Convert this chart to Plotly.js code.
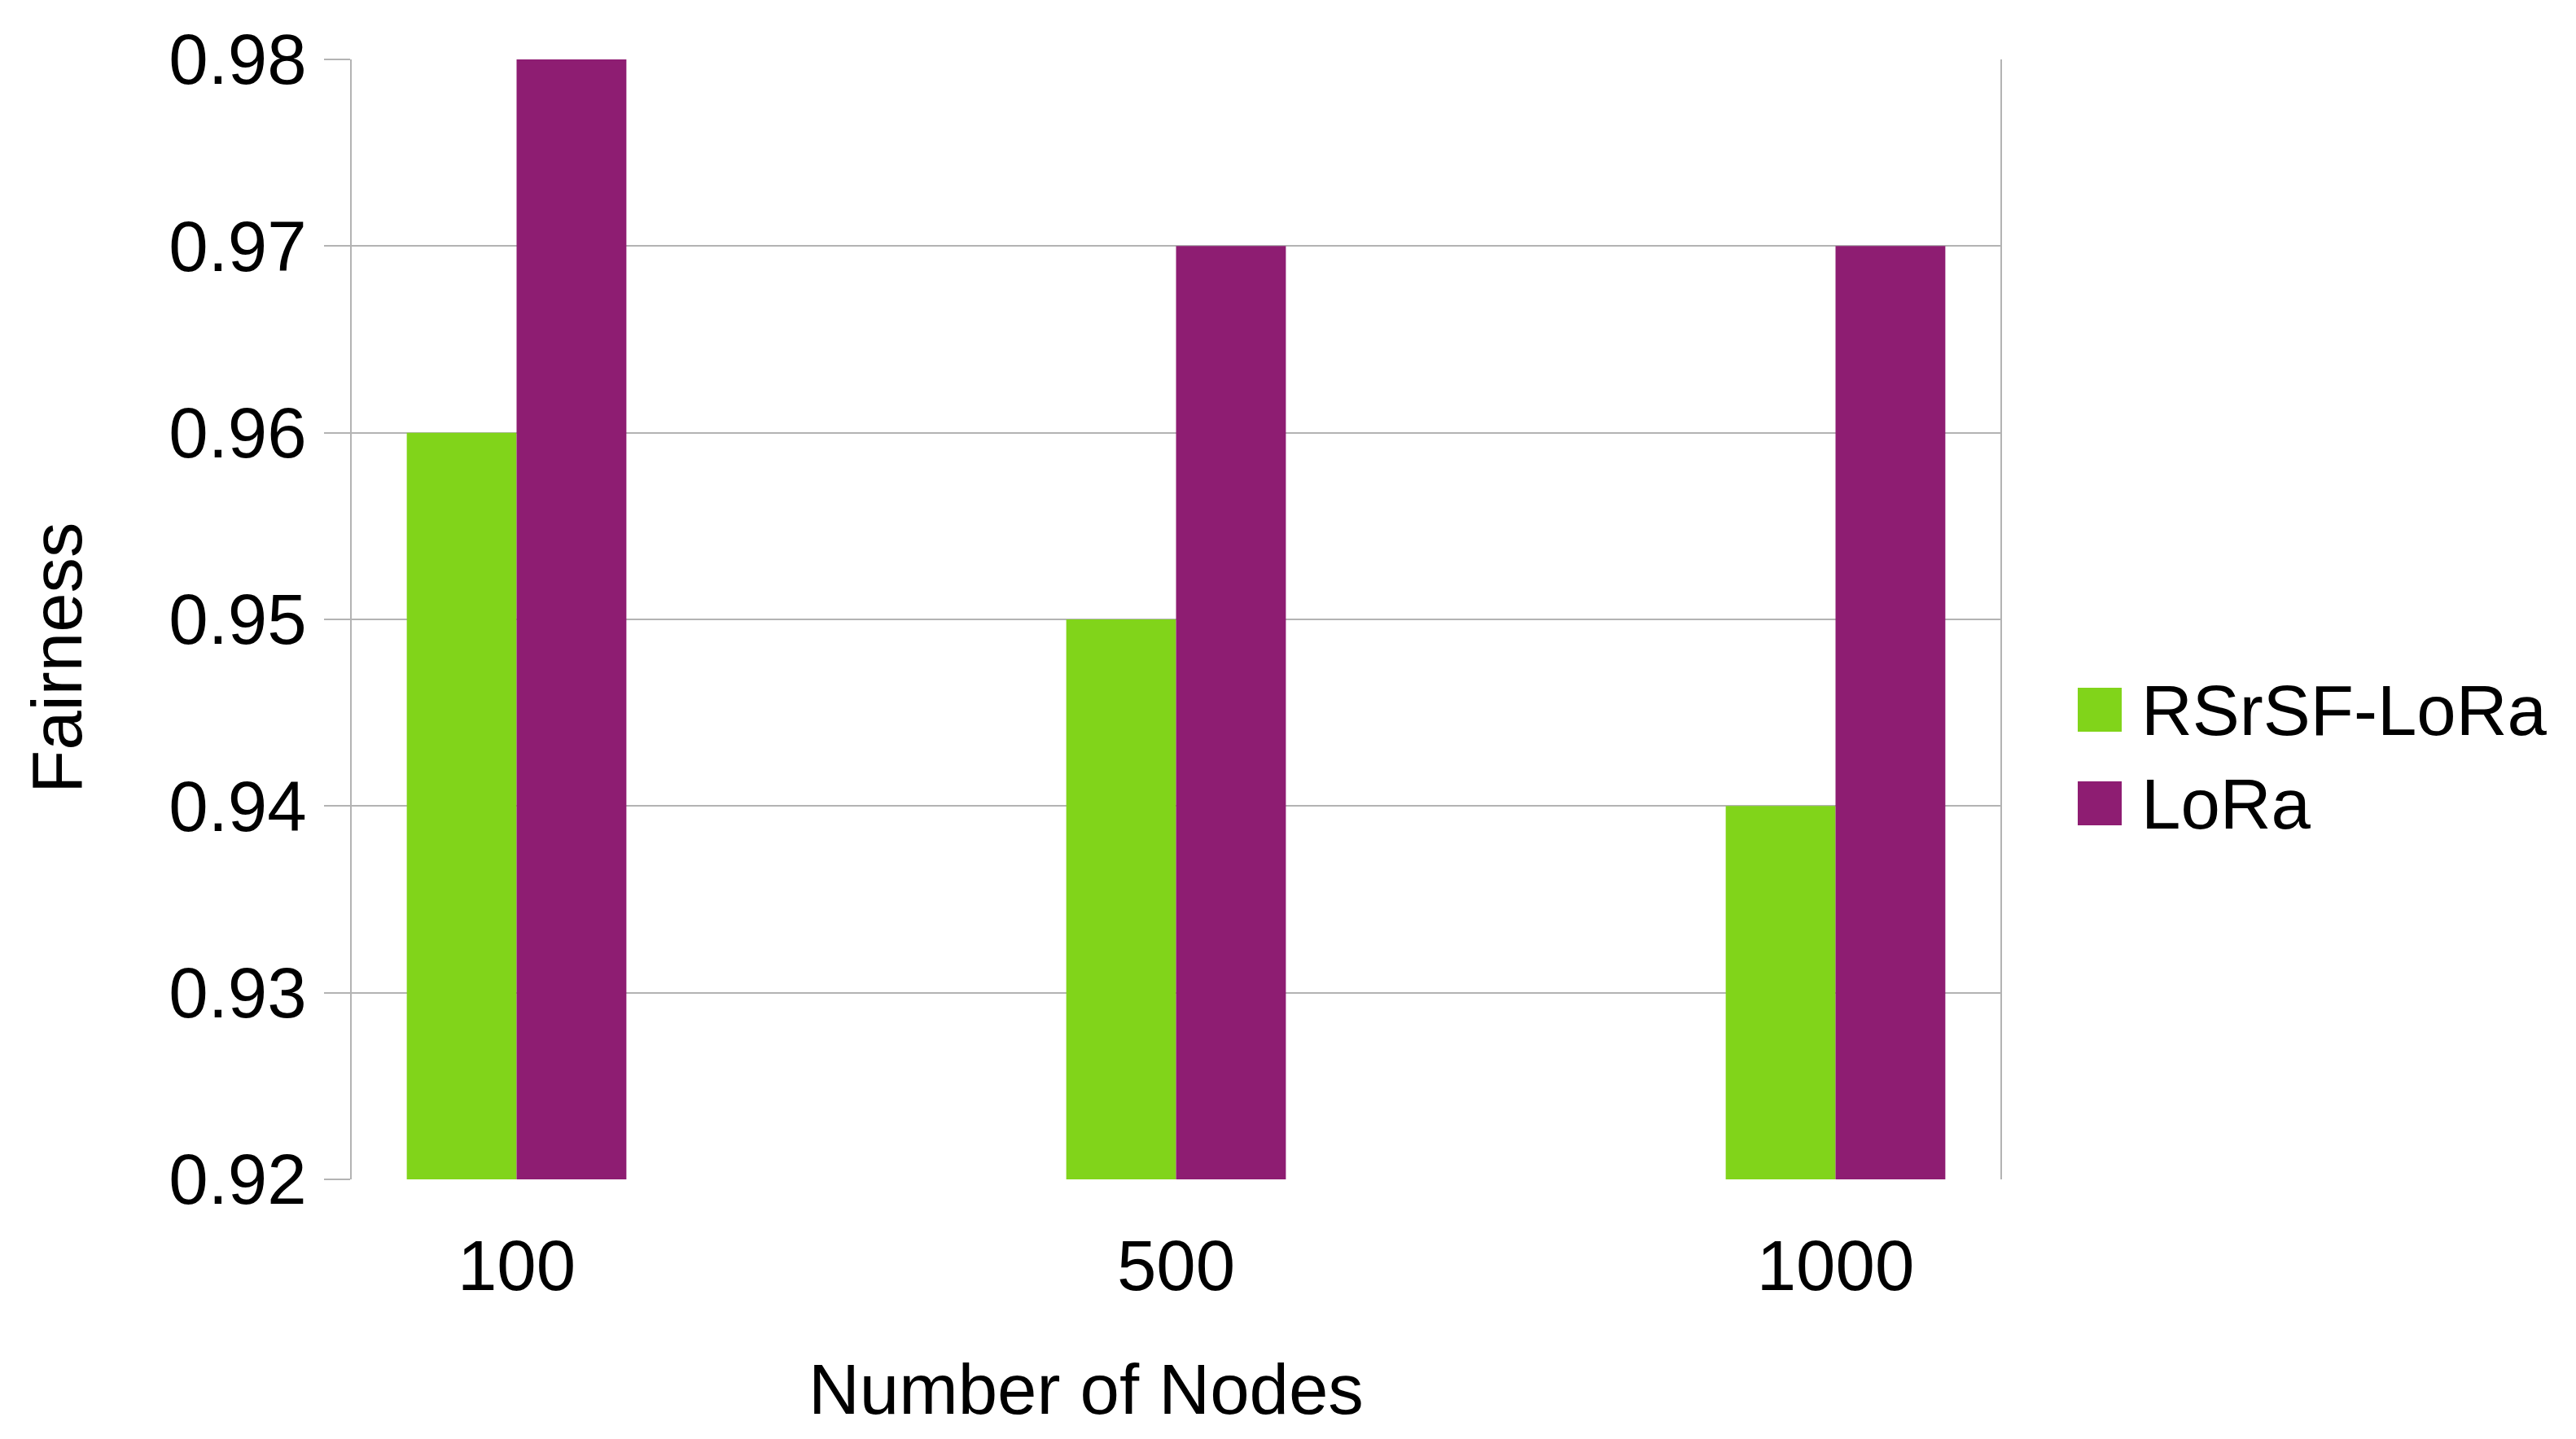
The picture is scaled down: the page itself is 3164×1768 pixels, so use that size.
<!DOCTYPE html>
<html>
<head>
<meta charset="utf-8">
<script src="https://cdn.plot.ly/plotly-3.0.1.min.js"></script>
<style>
  html, body { margin: 0; padding: 0; background: #fff; }
  #plot { width: 3164px; height: 1768px; }
</style>
</head>
<body>
<div id="plot"></div>
<script>
// Fairness vs number of nodes, grouped bars

const categories = ['100', '500', '1000'];
const seriesNames = ['RSrSF-LoRa', 'LoRa'];
const rsrsfValues = [0.96, 0.95, 0.94];
const loraValues = [0.98, 0.97, 0.97];
const yTickValues = [0.92, 0.93, 0.94, 0.95, 0.96, 0.97, 0.98];

const colors = ['#81d41a', '#8e1d72'];
const gridColor = '#b3b3b3';
const fontFamily = '"Liberation Sans", Arial, sans-serif';
const fontSize = 87;

const W = 3164, H = 1768;
const margin = { l: 432, r: 3164 - 2457, t: 73, b: 1768 - 1449 };
const plotW = W - margin.l - margin.r;
const plotH = H - margin.t - margin.b;

// pixel -> paper coords helpers
function px(x) { return (x - margin.l) / plotW; }
function py(y) { return (H - margin.b - y) / plotH; }

const traces = [
  {
    type: 'bar',
    name: seriesNames[0],
    x: categories,
    y: rsrsfValues,
    marker: { color: colors[0], line: { width: 0 } },
    hoverinfo: 'skip',
  },
  {
    type: 'bar',
    name: seriesNames[1],
    x: categories,
    y: loraValues,
    marker: { color: colors[1], line: { width: 0 } },
    hoverinfo: 'skip',
  }
];

// hand-drawn legend (big square swatches)
const shapes = [];
const annotations = [];
const legendRows = [872, 987];
seriesNames.forEach((name, i) => {
  const cy = legendRows[i];
  shapes.push({
    type: 'rect',
    xref: 'paper', yref: 'paper',
    x0: px(2552), x1: px(2606),
    y0: py(cy + 27), y1: py(cy - 27),
    fillcolor: colors[i],
    line: { width: 0 },
  });
  annotations.push({
    xref: 'paper', yref: 'paper',
    x: px(2628), y: py(cy),
    xanchor: 'left', yanchor: 'middle',
    text: name,
    showarrow: false,
    font: { family: fontFamily, size: fontSize, color: '#000' },
  });
});

// axis titles, placed where the original has them
annotations.push({
  xref: 'paper', yref: 'paper',
  x: px(1334), y: py(1706),
  xanchor: 'center', yanchor: 'middle',
  text: 'Number of Nodes',
  showarrow: false,
  font: { family: fontFamily, size: fontSize, color: '#000' },
});
annotations.push({
  xref: 'paper', yref: 'paper',
  x: px(69), y: py(808),
  xanchor: 'center', yanchor: 'middle',
  textangle: -90,
  text: 'Fairness',
  showarrow: false,
  font: { family: fontFamily, size: fontSize, color: '#000' },
});

const layout = {
  width: W,
  height: H,
  margin: margin,
  paper_bgcolor: '#fff',
  plot_bgcolor: '#fff',
  showlegend: false,
  barmode: 'group',
  bargap: 0.667,
  bargroupgap: 0,
  font: { family: fontFamily, size: fontSize, color: '#000' },
  xaxis: {
    type: 'category',
    range: [-0.25, categories.length - 0.75],
    showgrid: false,
    zeroline: false,
    showline: false,
    ticks: 'outside',
    ticklen: 31,
    tickcolor: 'rgba(0,0,0,0)',
    ticklabelstandoff: 0,
    tickfont: { family: fontFamily, size: fontSize, color: '#000' },
  },
  xaxis2: {
    overlaying: 'x',
    anchor: 'y',
    side: 'bottom',
    type: 'linear',
    range: [-0.25, categories.length - 0.75],
    tickmode: 'linear',
    tick0: -0.25,
    dtick: 0.5,
    ticks: 'outside',
    ticklen: 31,
    tickwidth: 2,
    tickcolor: gridColor,
    showticklabels: false,
    showgrid: false,
    zeroline: false,
    showline: false,
  },
  yaxis: {
    range: [yTickValues[0], yTickValues[yTickValues.length - 1]],
    tickmode: 'array',
    tickvals: yTickValues,
    ticktext: yTickValues.map(v => v.toFixed(2)),
    showgrid: true,
    gridcolor: gridColor,
    gridwidth: 2,
    zeroline: false,
    showline: true,
    mirror: true,
    linecolor: gridColor,
    linewidth: 2,
    ticks: 'outside',
    ticklen: 32,
    tickwidth: 2,
    tickcolor: gridColor,
    ticklabelstandoff: 4,
    tickfont: { family: fontFamily, size: fontSize, color: '#000' },
  },
  shapes: shapes,
  annotations: annotations,
};

Plotly.newPlot('plot', traces, layout, { displayModeBar: false, staticPlot: true });
</script>
</body>
</html>
